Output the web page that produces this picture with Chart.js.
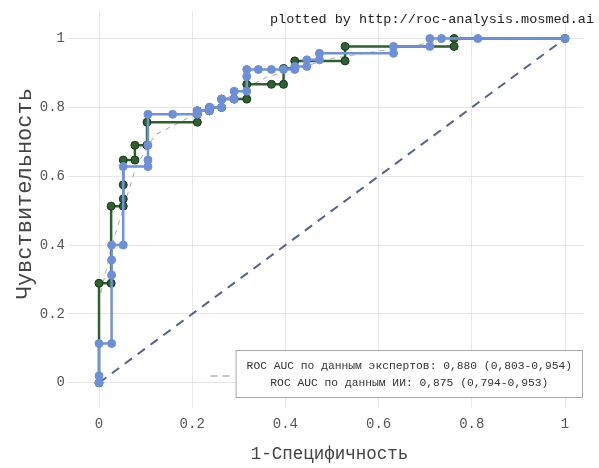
<!DOCTYPE html>
<html>
<head>
<meta charset="utf-8">
<script src="https://cdn.jsdelivr.net/npm/chart.js@4/dist/chart.umd.min.js"></script>
<style>
  html, body { margin: 0; padding: 0; background: #fff; }
  #wrap { width: 599px; height: 468px; }
</style>
</head>
<body>
<div id="wrap"><canvas id="rocChart" width="599" height="468"></canvas></div>
<script>
// ROC по данным экспертов
const expFpr = [0, 0, 0.026, 0.026, 0.052, 0.052, 0.052, 0.052, 0.077, 0.077, 0.103, 0.103, 0.211, 0.211, 0.211, 0.237, 0.237, 0.263, 0.263, 0.29, 0.317, 0.317, 0.37, 0.396, 0.396, 0.42, 0.42, 0.528, 0.528, 0.762, 0.762, 1];
const expTpr = [0, 0.289, 0.289, 0.513, 0.513, 0.534, 0.575, 0.647, 0.647, 0.69, 0.69, 0.757, 0.757, 0.78, 0.79, 0.79, 0.80, 0.80, 0.824, 0.824, 0.824, 0.867, 0.867, 0.867, 0.913, 0.913, 0.935, 0.935, 0.977, 0.977, 1, 1];

// ROC по данным ИИ
const aiFpr = [0, 0, 0, 0.027, 0.027, 0.027, 0.027, 0.052, 0.052, 0.105, 0.105, 0.105, 0.105, 0.158, 0.211, 0.211, 0.237, 0.237, 0.263, 0.263, 0.29, 0.29, 0.317, 0.317, 0.317, 0.342, 0.37, 0.396, 0.42, 0.42, 0.446, 0.446, 0.473, 0.473, 0.632, 0.632, 0.71, 0.71, 0.735, 0.813, 1];
const aiTpr = [0, 0.02, 0.114, 0.114, 0.313, 0.357, 0.40, 0.40, 0.628, 0.628, 0.647, 0.69, 0.78, 0.78, 0.78, 0.79, 0.79, 0.80, 0.80, 0.824, 0.824, 0.847, 0.847, 0.89, 0.91, 0.91, 0.91, 0.91, 0.91, 0.919, 0.919, 0.938, 0.938, 0.957, 0.957, 0.977, 0.977, 1, 1, 1, 1];

// сглаженная кривая (серый пунктир)
const smoothFpr = [0, 0, 0.03, 0.08, 0.12, 0.2, 0.3, 0.36, 0.5, 0.62, 0.7, 0.8, 1];
const smoothTpr = [0, 0.24, 0.41, 0.63, 0.72, 0.775, 0.845, 0.888, 0.942, 0.968, 0.985, 1, 1];

// диагональ
const diagFpr = [0, 1];
const diagTpr = [0, 1];

const tickVals = [0, 0.2, 0.4, 0.6, 0.8, 1];
const legendLines = [
    'ROC AUC по данным экспертов: 0,880 (0,803-0,954)',
    'ROC AUC по данным ИИ: 0,875 (0,794-0,953)'
];
const creditText = 'plotted by http://roc-analysis.mosmed.ai';
const xTitle = '1-Специфичность';
const yTitle = 'Чувствительность';

function pts(xs, ys) {
    return xs.map((x, i) => ({x: x, y: ys[i]}));
}

const mono = 'Liberation Mono, DejaVu Sans Mono, monospace';

const extras = {
    id: 'extras',
    afterDatasetsDraw(chart) {
        const ctx = chart.ctx;
        const a = chart.chartArea;
        ctx.save();
        // legend box
        ctx.font = '11.3px ' + mono;
        const w = Math.max(...legendLines.map(t => ctx.measureText(t).width)) + 22;
        const h = 48;
        const bx = a.right - w;
        const by = a.bottom - h - 2;
        ctx.fillStyle = '#fff';
        ctx.fillRect(bx, by, w, h);
        ctx.strokeStyle = '#a8a8a8';
        ctx.lineWidth = 1;
        ctx.strokeRect(bx + 0.5, by + 0.5, w - 1, h - 1);
        ctx.fillStyle = '#333';
        ctx.textAlign = 'center';
        ctx.textBaseline = 'middle';
        ctx.fillText(legendLines[0], bx + w / 2, by + 16);
        ctx.fillText(legendLines[1], bx + w / 2, by + 33);
        // little dashed mark left of the box
        ctx.strokeStyle = '#8a8a8a';
        ctx.setLineDash([7, 5]);
        ctx.beginPath();
        ctx.moveTo(bx - 25, by + 26);
        ctx.lineTo(bx - 5, by + 26);
        ctx.stroke();
        ctx.setLineDash([]);
        // credit text
        ctx.font = '13.5px ' + mono;
        ctx.fillStyle = '#222';
        ctx.textAlign = 'right';
        ctx.fillText(creditText, chart.width - 5, 19);
        // y title
        ctx.font = '22px ' + mono;
        ctx.fillStyle = '#444';
        ctx.textAlign = 'center';
        ctx.translate(25, (a.top + a.bottom) / 2 - 12);
        ctx.rotate(-Math.PI / 2);
        ctx.fillText(yTitle, 0, 0);
        ctx.restore();
    }
};

let chart;

function initializeChart() {
    const ctx = document.getElementById('rocChart').getContext('2d');
    chart = new Chart(ctx, {
        type: 'scatter',
        data: {
            datasets: [
                {
                    label: 'ИИ',
                    data: pts(aiFpr, aiTpr),
                    showLine: true,
                    borderColor: '#7192d8',
                    borderWidth: 2.5,
                    pointRadius: 4,
                    pointBackgroundColor: '#6d8fd8',
                    pointBorderColor: '#6d8fd8',
                    pointBorderWidth: 1,
                },
                {
                    label: 'Эксперты',
                    data: pts(expFpr, expTpr),
                    showLine: true,
                    borderColor: '#2e5f2e',
                    borderWidth: 2.5,
                    pointRadius: 4,
                    pointBackgroundColor: '#2f602f',
                    pointBorderColor: '#183818',
                    pointBorderWidth: 1,
                },
                {
                    label: 'smooth',
                    data: pts(smoothFpr, smoothTpr),
                    showLine: true,
                    borderColor: '#a9a9a9',
                    borderWidth: 1,
                    borderDash: [5, 5],
                    pointRadius: 0,
                },
                {
                    label: 'diag',
                    data: pts(diagFpr, diagTpr),
                    showLine: true,
                    borderColor: '#53628f',
                    borderWidth: 2,
                    borderDash: [9, 7],
                    pointRadius: 0,
                }
            ]
        },
        options: {
            responsive: false,
            animation: false,
            devicePixelRatio: 1,
            layout: {padding: {top: 6, right: 16, left: 0, bottom: 0}},
            plugins: {
                legend: {display: false},
                tooltip: {enabled: false}
            },
            scales: {
                x: {
                    type: 'linear',
                    min: -0.0494,
                    max: 1.0386,
                    afterBuildTicks: s => { s.ticks = tickVals.map(v => ({value: v})); },
                    afterFit: s => { s.height = 68; },
                    grid: {color: '#e6e6e6', tickLength: 8, tickColor: '#e6e6e6'},
                    border: {display: false},
                    ticks: {
                        font: {family: mono, size: 14},
                        color: '#555',
                        padding: 8,
                        maxRotation: 0,
                        callback: v => String(Number(v.toFixed(1)))
                    },
                    title: {
                        display: true,
                        text: xTitle,
                        font: {family: mono, size: 17.5},
                        color: '#444',
                        padding: {top: 0, bottom: 3}
                    }
                },
                y: {
                    type: 'linear',
                    min: -0.05,
                    max: 1.0788,
                    afterBuildTicks: s => { s.ticks = tickVals.map(v => ({value: v})); },
                    afterFit: s => { s.width = 76; },
                    grid: {color: '#e6e6e6', tickLength: 8, tickColor: '#e6e6e6'},
                    border: {display: false},
                    ticks: {
                        font: {family: mono, size: 14},
                        color: '#555',
                        padding: 3,
                        callback: v => String(Number(v.toFixed(1)))
                    }
                }
            }
        },
        plugins: [extras]
    });
}

window.onload = initializeChart;
</script>
</body>
</html>
